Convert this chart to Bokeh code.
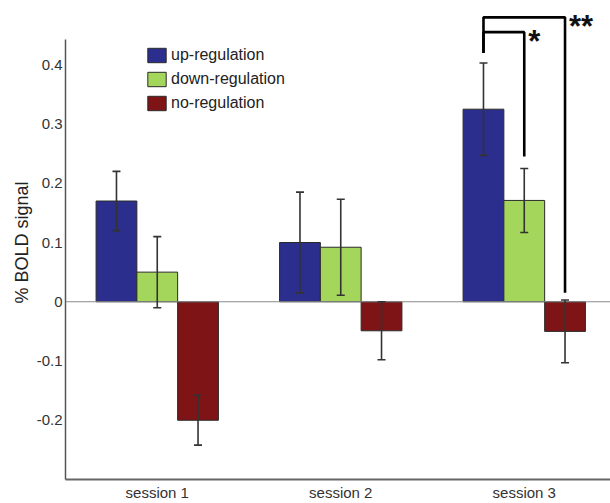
from bokeh.plotting import figure
from bokeh.models import (ColumnDataSource, Whisker, TeeHead, FixedTicker, Legend,
                          LegendItem, Span, LinearAxis)
from bokeh.core.properties import value
from bokeh.embed import file_html
from bokeh.resources import INLINE

# ---- data ----
sessions = ["session 1", "session 2", "session 3"]
conditions = ["up-regulation", "down-regulation", "no-regulation"]
colors = ["#2b2e8c", "#a4d65b", "#7e1416"]

up_mean = [0.17, 0.10, 0.325]
up_err = [0.05, 0.085, 0.078]
down_mean = [0.05, 0.092, 0.171]
down_err = [0.06, 0.081, 0.054]
no_mean = [-0.20, -0.049, -0.05]
no_err = [0.042, 0.049, 0.053]

y_ticks = [-0.2, -0.1, 0, 0.1, 0.2, 0.3, 0.4]

# significance brackets (session 3): condition index pairs
bracket_session = [2, 2]
bracket_pairs = [(0, 1), (0, 2)]
bracket_top = [0.455, 0.48]
bracket_left_end = [0.42, 0.42]
bracket_right_end = [0.245, 0.015]
bracket_labels = ["*", "**"]

means = [up_mean, down_mean, no_mean]
errs = [up_err, down_err, no_err]

bar_w = 0.2222
offsets = [-bar_w, 0.0, bar_w]
xs = [i + 1 for i in range(len(sessions))]

FONT = "Liberation Sans"

p = figure(width=610, height=503, output_backend="svg", toolbar_location=None,
           x_range=(0.5, 3.47), y_range=(-0.30, 0.50),
           min_border_left=65, min_border_right=0, min_border_top=5, min_border_bottom=0,
           x_axis_type=None, y_axis_type=None)
p.outline_line_color = None
p.background_fill_color = "white"
p.border_fill_color = "white"

# zero line
p.add_layout(Span(location=0, dimension="width", line_color="#8a8a8a", line_width=1.2))

legend_items = []
for k, cond in enumerate(conditions):
    src = ColumnDataSource(dict(
        x=[x + offsets[k] for x in xs],
        top=means[k],
        upper=[m + e for m, e in zip(means[k], errs[k])],
        lower=[m - e for m, e in zip(means[k], errs[k])],
    ))
    r = p.vbar(x="x", top="top", bottom=0, width=bar_w, source=src,
               fill_color=colors[k], line_color="#2a2a2a", line_width=1)
    legend_items.append(LegendItem(label=cond, renderers=[r]))
    w = Whisker(base="x", upper="upper", lower="lower", source=src, level="overlay",
                line_color="#333333", line_width=1.6,
                upper_head=TeeHead(size=8, line_color="#333333", line_width=1.6),
                lower_head=TeeHead(size=8, line_color="#333333", line_width=1.6))
    p.add_layout(w)

# brackets
b_xs, b_ys, t_x, t_y = [], [], [], []
for s, (a, b), top, le, re in zip(bracket_session, bracket_pairs, bracket_top,
                                   bracket_left_end, bracket_right_end):
    xa = xs[s] + offsets[a]
    xb = xs[s] + offsets[b]
    b_xs.append([xa, xa, xb, xb])
    b_ys.append([le, top, top, re])
    t_x.append(xb)
    t_y.append(top)
p.multi_line(xs=b_xs, ys=b_ys, line_color="black", line_width=2.6)
p.text(x=t_x, y=t_y, text=bracket_labels, x_offset=4, y_offset=9,
       text_font=value(FONT), text_font_style="bold", text_font_size="31px",
       text_color="#111111", text_baseline="alphabetic", text_align="left")

# axes
yaxis = LinearAxis(ticker=FixedTicker(ticks=y_ticks), bounds=(-0.30, 0.442),
                   axis_label="% BOLD signal")
yaxis.major_label_overrides = {t: ("0" if t == 0 else f"{t:g}") for t in y_ticks}
yaxis.axis_line_color = "#555555"
yaxis.axis_line_width = 1.5
yaxis.major_tick_out = 0
yaxis.major_tick_in = 0
yaxis.minor_tick_out = 0
yaxis.minor_tick_in = 0
yaxis.major_tick_line_color = None
yaxis.minor_tick_line_color = None
yaxis.major_label_standoff = 3
yaxis.major_label_text_font = FONT
yaxis.major_label_text_font_size = "15px"
yaxis.major_label_text_color = "#333333"
yaxis.axis_label_text_font = FONT
yaxis.axis_label_text_font_size = "18px"
yaxis.axis_label_text_font_style = "normal"
yaxis.axis_label_text_color = "#222222"
yaxis.axis_label_standoff = 2
p.add_layout(yaxis, "left")

xaxis = LinearAxis(ticker=FixedTicker(ticks=xs))
xaxis.major_label_overrides = {x: s for x, s in zip(xs, sessions)}
xaxis.axis_line_color = "#666666"
xaxis.axis_line_width = 1.8
xaxis.major_tick_out = 0
xaxis.major_tick_in = 0
xaxis.minor_tick_out = 0
xaxis.minor_tick_in = 0
xaxis.major_tick_line_color = None
xaxis.minor_tick_line_color = None
xaxis.major_label_standoff = 4
xaxis.major_label_text_font = FONT
xaxis.major_label_text_font_size = "15px"
xaxis.major_label_text_color = "#333333"
p.add_layout(xaxis, "below")

legend = Legend(items=legend_items, location=(80, 367), orientation="vertical",
                glyph_width=23, glyph_height=18, label_height=18, spacing=6,
                padding=0, margin=0, label_standoff=3,
                label_text_font=FONT, label_text_font_size="16px",
                label_text_color="#222222",
                border_line_color=None, background_fill_alpha=0)
p.add_layout(legend, "center")

open("out.html", "w").write(file_html(p, INLINE))
